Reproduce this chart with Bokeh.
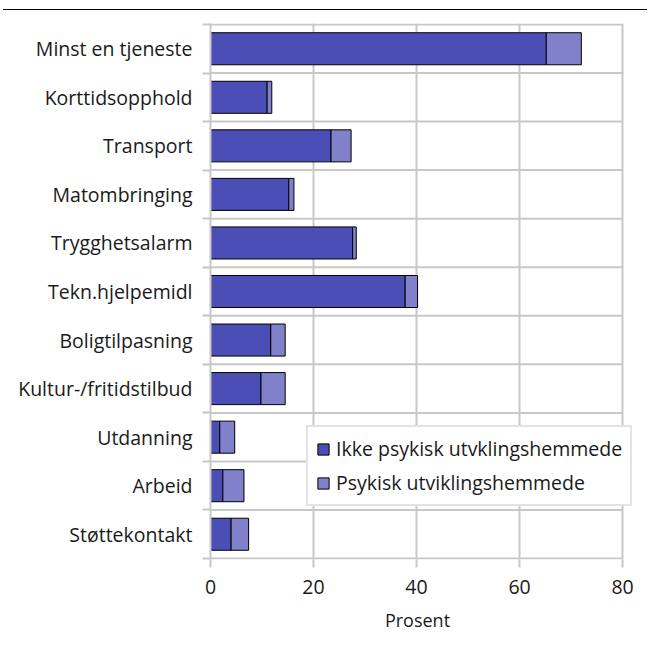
from bokeh.plotting import figure
from bokeh.models import FixedTicker, Legend, Div
from bokeh.layouts import column
from bokeh.embed import file_html
from bokeh.resources import INLINE

categories = ["Minst en tjeneste", "Korttidsopphold", "Transport", "Matombringing",
              "Trygghetsalarm", "Tekn.hjelpemidl", "Boligtilpasning",
              "Kultur-/fritidstilbud", "Utdanning", "Arbeid", "Støttekontakt"]
ikke_psykisk = [65.2, 11.0, 23.4, 15.2, 27.6, 37.8, 11.7, 9.8, 1.8, 2.4, 4.0]
psykisk = [6.8, 0.9, 3.9, 1.0, 0.7, 2.4, 2.8, 4.7, 2.9, 4.1, 3.4]
series_names = ["Ikke psykisk utvklingshemmede", "Psykisk utviklingshemmede"]
x_ticks = [0, 20, 40, 60, 80]
x_max = 80

n = len(categories)
ypos = [n - 0.5 - i for i in range(n)]
totals = [a + b for a, b in zip(ikke_psykisk, psykisk)]
bounds = list(range(n + 1))

FONT = "Open Sans"
GRID = "#c8c8c8"
TXT = "#1a1a1a"

# frame extends a little past 80 so the legend (which overhangs the
# plot area in the original) is not clipped
p = figure(width=643, height=635, x_range=(0, 83.1), y_range=(-0.02, n + 0.02),
           output_backend="svg", toolbar_location=None,
           min_border_left=210, min_border_right=5, min_border_top=13,
           min_border_bottom=86)
p.outline_line_color = None

# horizontal grid lines limited to 0..80
p.segment(x0=[0] * len(bounds), x1=[x_max] * len(bounds), y0=bounds, y1=bounds,
          line_color=GRID, line_width=2)

r1 = p.hbar(y=ypos, left=0, right=ikke_psykisk, height=0.66,
            fill_color="#4b4eb4", line_color="black", line_width=1)
r2 = p.hbar(y=ypos, left=ikke_psykisk, right=totals, height=0.66,
            fill_color="#8181cb", line_color="black", line_width=1)

# x axis
p.xaxis.ticker = FixedTicker(ticks=x_ticks)
p.xaxis.axis_label = "Prosent\u00a0\u00a0\u00a0"
p.xaxis.axis_line_color = None
p.xaxis.major_tick_line_color = GRID
p.xaxis.major_tick_line_width = 2
p.xaxis.major_tick_out = 8
p.xaxis.major_tick_in = 0
p.xaxis.minor_tick_line_color = None
p.xaxis.major_label_text_font = FONT
p.xaxis.major_label_text_font_size = "19.5px"
p.xaxis.major_label_text_color = TXT
p.xaxis.major_label_standoff = 12
p.xaxis.axis_label_text_font = FONT
p.xaxis.axis_label_text_font_size = "18px"
p.xaxis.axis_label_text_font_style = "normal"
p.xaxis.axis_label_text_color = TXT
p.xaxis.axis_label_standoff = 11

# y axis
p.yaxis.ticker = FixedTicker(ticks=ypos, minor_ticks=bounds)
p.yaxis.major_label_overrides = {y: c for y, c in zip(ypos, categories)}
p.yaxis.axis_line_color = GRID
p.yaxis.axis_line_width = 2
p.yaxis.major_tick_line_color = None
p.yaxis.minor_tick_line_color = GRID
p.yaxis.minor_tick_line_width = 2
p.yaxis.minor_tick_out = 8
p.yaxis.minor_tick_in = 0
p.yaxis.major_label_text_font = FONT
p.yaxis.major_label_text_font_size = "19.5px"
p.yaxis.major_label_text_color = TXT
p.yaxis.major_label_standoff = 10

p.xgrid.ticker = FixedTicker(ticks=x_ticks)
p.xgrid.grid_line_color = GRID
p.xgrid.grid_line_width = 2
p.ygrid.grid_line_color = None

legend = Legend(items=[(series_names[0], [r1]), (series_names[1], [r2])],
                location=(96, 53), orientation="vertical")
legend.border_line_color = GRID
legend.border_line_width = 2
legend.background_fill_color = "white"
legend.background_fill_alpha = 1
legend.glyph_width = 14
legend.glyph_height = 14
legend.label_height = 20
legend.spacing = 7
legend.padding = 8
legend.margin = 0
legend.label_standoff = 6
legend.label_text_font = FONT
legend.label_text_font_size = "19.5px"
legend.label_text_color = TXT
p.add_layout(legend, "center")

topline = Div(width=644, height=1, margin=(9, 0, 0, 3),
              styles={"background-color": "black"})
layout = column(topline, p, spacing=0)

open("out.html", "w").write(file_html(layout, INLINE))
